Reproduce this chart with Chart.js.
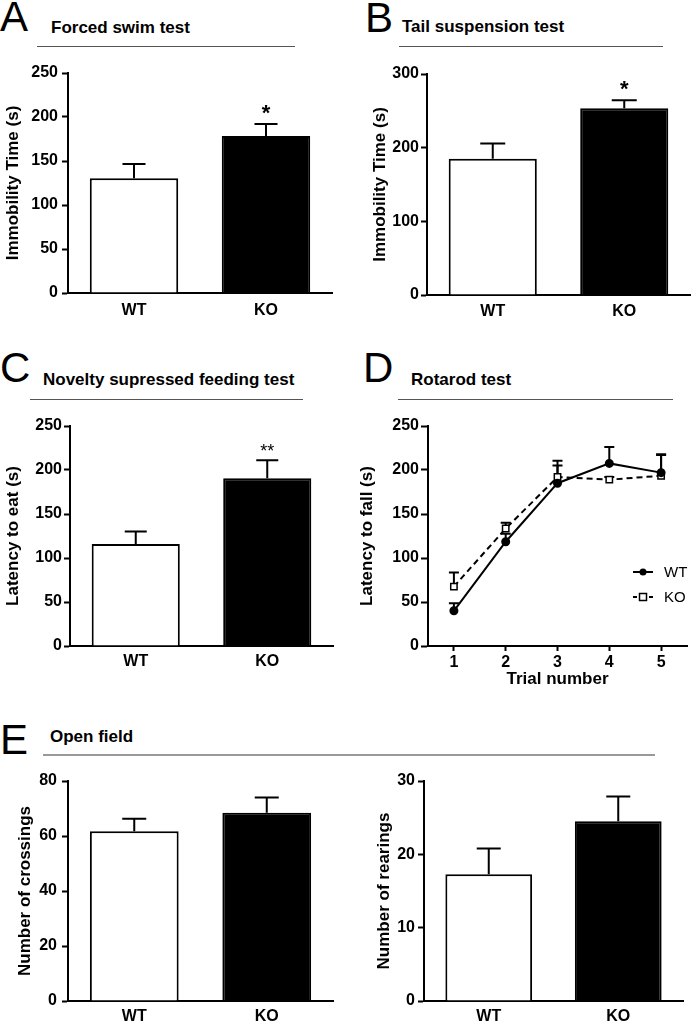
<!DOCTYPE html>
<html>
<head>
<meta charset="utf-8">
<script src="https://cdn.jsdelivr.net/npm/chart.js@4.4.1/dist/chart.umd.min.js"></script>
<style>
  body { margin: 0; background: #fff; }
  #fig { position: relative; width: 693px; height: 1023px; overflow: hidden; font-family: 'Liberation Sans', Arial, sans-serif; color: #000; }
  .letter { position: absolute; font-size: 42px; line-height: 42px; }
  .title { position: absolute; font-size: 17px; font-weight: bold; line-height: 17px; white-space: nowrap; }
  .rule { position: absolute; height: 1px; background: #555; }
  canvas { position: absolute; }
</style>
</head>
<body>
<div id="fig">
  <div class="letter" style="left:0px; top:-4px;">A</div>
  <div class="title" style="left:51px; top:19px;">Forced swim test</div>
  <div class="rule" style="left:37px; top:46px; width:258px;"></div>

  <div class="letter" style="left:365px; top:-3px;">B</div>
  <div class="title" style="left:402px; top:18px;">Tail suspension test</div>
  <div class="rule" style="left:399px; top:46px; width:264px;"></div>

  <div class="letter" style="left:0px; top:347px;">C</div>
  <div class="title" style="left:43px; top:371px;">Novelty supressed feeding test</div>
  <div class="rule" style="left:30px; top:399px; width:273px;"></div>

  <div class="letter" style="left:363px; top:347px;">D</div>
  <div class="title" style="left:411px; top:371px;">Rotarod test</div>
  <div class="rule" style="left:398px; top:399px; width:275px;"></div>

  <div class="letter" style="left:0px; top:719px;">E</div>
  <div class="title" style="left:50px; top:728px;">Open field</div>
  <div class="rule" style="left:43px; top:754px; width:612px; height:2px; background:#999;"></div>

  <canvas id="swim" width="345" height="270" style="left:0px; top:55px;"></canvas>
  <canvas id="tail" width="338" height="270" style="left:355px; top:55px;"></canvas>
  <canvas id="feeding" width="345" height="270" style="left:0px; top:408px;"></canvas>
  <canvas id="rotarod" width="338" height="285" style="left:355px; top:408px;"></canvas>
  <canvas id="crossings" width="345" height="260" style="left:0px; top:763px;"></canvas>
  <canvas id="rearings" width="338" height="260" style="left:355px; top:763px;"></canvas>
</div>

<script>
// groups on the bar panels
const groups = ['WT', 'KO'];

// A - forced swim test
const swimMeans = [130.5, 178.5];
const swimSem = [16, 13.5];
const swimStars = ['', '*'];
const swimTicks = [0, 50, 100, 150, 200, 250];

// B - tail suspension test
const tailMeans = [185, 253.5];
const tailSem = [20.5, 11];
const tailStars = ['', '*'];
const tailTicks = [0, 100, 200, 300];

// C - novelty suppressed feeding
const feedingMeans = [116, 190.5];
const feedingSem = [14, 20.5];
const feedingStars = ['', '**'];
const feedingTicks = [0, 50, 100, 150, 200, 250];

// D - rotarod
const trials = ['1', '2', '3', '4', '5'];
const rotarodWT = [40, 118.5, 185, 207.5, 197];
const rotarodWTSem = [8.5, 9, 20, 18.5, 20];
const rotarodKO = [67.5, 133.5, 192, 189, 193.5];
const rotarodKOSem = [16, 6.5, 18.5, 3, 24.5];
const rotarodTicks = [0, 50, 100, 150, 200, 250];

// E - open field
const crossingMeans = [61.7, 68.5];
const crossingSem = [4.6, 5.5];
const crossingTicks = [0, 20, 40, 60, 80];
const rearingMeans = [17.3, 24.5];
const rearingSem = [3.5, 3.4];
const rearingTicks = [0, 10, 20, 30];

Chart.defaults.font.family = "'Liberation Sans', Arial, sans-serif";
Chart.defaults.color = '#000';

// SEM whiskers (upwards only) plus significance stars
function drawErrors(chart, opts) {
    const ctx = chart.ctx;
    const yScale = chart.scales.y;
    chart.data.datasets.forEach((ds, di) => {
        if (!ds.errors) return;
        const meta = chart.getDatasetMeta(di);
        meta.data.forEach((el, i) => {
            const base = yScale.getPixelForValue(ds.data[i]);
            const top = yScale.getPixelForValue(ds.data[i] + ds.errors[i]);
            ctx.save();
            ctx.strokeStyle = '#000';
            ctx.lineWidth = 2;
            ctx.setLineDash([]);
            ctx.beginPath();
            ctx.moveTo(el.x, base);
            ctx.lineTo(el.x, top);
            ctx.moveTo(el.x - opts.cap, top);
            ctx.lineTo(el.x + opts.cap, top);
            ctx.stroke();
            if (ds.stars && ds.stars[i]) {
                ctx.fillStyle = '#000';
                ctx.font = opts.starFont;
                ctx.textAlign = 'center';
                ctx.textBaseline = 'alphabetic';
                ctx.fillText(ds.stars[i], el.x, top - opts.starGap);
            }
            ctx.restore();
        });
    });
}

const errorBars = {
    id: 'errorBars',
    beforeDatasetsDraw(chart, args, opts) {
        if (opts.behind) drawErrors(chart, opts);
    },
    afterDatasetsDraw(chart, args, opts) {
        if (!opts.behind) drawErrors(chart, opts);
    }
};

// legend with line + marker, like the prism style
const lineKey = {
    id: 'lineKey',
    afterDraw(chart, args, opts) {
        if (!opts.display) return;
        const { ctx, chartArea } = chart;
        chart.data.datasets.forEach((ds, i) => {
            const x = chartArea.right - opts.right;
            const y = chartArea.top + opts.top + i * opts.gap;
            ctx.save();
            ctx.strokeStyle = '#000';
            ctx.lineWidth = 2;
            ctx.setLineDash(ds.borderDash ? [4, 4] : []);
            ctx.beginPath();
            ctx.moveTo(x, y);
            ctx.lineTo(x + 20, y);
            ctx.stroke();
            ctx.setLineDash([]);
            ctx.lineWidth = 1.5;
            ctx.fillStyle = ds.pointBackgroundColor;
            if (ds.pointStyle === 'rect') {
                ctx.fillRect(x + 6.5, y - 3.5, 7, 7);
                ctx.strokeRect(x + 6.5, y - 3.5, 7, 7);
            } else {
                ctx.beginPath();
                ctx.arc(x + 10, y, 3.5, 0, Math.PI * 2);
                ctx.fill();
            }
            ctx.fillStyle = '#000';
            ctx.font = '15px ' + Chart.defaults.font.family;
            ctx.textBaseline = 'middle';
            ctx.fillText(ds.label, x + 31, y + 1);
            ctx.restore();
        });
    }
};

function yAxis(tickValues, title, dims) {
    return {
        min: tickValues[0],
        max: tickValues[tickValues.length - 1],
        afterBuildTicks: s => { s.ticks = tickValues.map(v => ({ value: v })); },
        afterFit: s => { s.width = dims.yWidth; },
        border: { display: true, color: '#000', width: 2 },
        grid: { drawOnChartArea: false, drawTicks: true, tickLength: dims.tickLen || 6, tickColor: '#000', tickWidth: 2 },
        ticks: { color: '#000', padding: dims.tickPad, font: { size: 16, weight: 'bold' } },
        title: { display: true, text: title, color: '#000', padding: { top: dims.titlePad, bottom: 0 }, font: { size: 17, weight: 'bold' } }
    };
}

function barChart(id, means, sem, stars, tickValues, title, dims) {
    return new Chart(document.getElementById(id), {
        type: 'bar',
        data: {
            labels: groups,
            datasets: [{
                data: means,
                errors: sem,
                stars: stars,
                backgroundColor: ['#ffffff', '#000000'],
                borderColor: '#000',
                borderWidth: 2,
                borderSkipped: 'bottom',
                barPercentage: 0.67,
                categoryPercentage: 1
            }]
        },
        options: {
            responsive: false,
            animation: false,
            layout: { padding: { top: dims.padTop, right: dims.padRight, left: 0, bottom: 0 } },
            plugins: {
                legend: { display: false },
                tooltip: { enabled: false },
                errorBars: { cap: dims.cap, starFont: dims.starFont || 'bold 22px Liberation Sans', starGap: dims.starGap || 4 }
            },
            scales: {
                x: {
                    afterFit: s => { s.height = dims.xHeight; },
                    border: { display: true, color: '#000', width: 2 },
                    grid: { display: false, drawTicks: false },
                    ticks: { color: '#000', padding: dims.xPad, font: { size: 16, weight: 'bold' } }
                },
                y: yAxis(tickValues, title, dims)
            }
        },
        plugins: [errorBars]
    });
}

barChart('swim', swimMeans, swimSem, swimStars, swimTicks, 'Immobility Time (s)',
    { yWidth: 68, xHeight: 32, padTop: 18, padRight: 13, titlePad: 3, tickPad: 4, xPad: 8, cap: 11.5 });

barChart('tail', tailMeans, tailSem, tailStars, tailTicks, 'Immobility Time (s)',
    { yWidth: 72, xHeight: 30, padTop: 19, padRight: 3, titlePad: 15, tickPad: 2, xPad: 7, cap: 12.5 });

barChart('feeding', feedingMeans, feedingSem, feedingStars, feedingTicks, 'Latency to eat (s)',
    { yWidth: 70, xHeight: 32, padTop: 18, padRight: 12, titlePad: 3, tickPad: 2, xPad: 6, cap: 11, starFont: '18px Liberation Sans', starGap: 3 });

barChart('crossings', crossingMeans, crossingSem, null, crossingTicks, 'Number of crossings',
    { yWidth: 68, xHeight: 22, padTop: 18, padRight: 12, titlePad: 15, tickPad: 5, xPad: 6, cap: 12 });

barChart('rearings', rearingMeans, rearingSem, null, rearingTicks, 'Number of rearings',
    { yWidth: 69, xHeight: 22, padTop: 18, padRight: 10, titlePad: 19, tickPad: 3, xPad: 6, cap: 12 });

// D - rotarod line plot
const rotarodDims = { yWidth: 73, tickPad: 2, titlePad: 2, tickLen: 7 };
new Chart(document.getElementById('rotarod'), {
    type: 'line',
    data: {
        labels: trials,
        datasets: [
            {
                label: 'WT',
                data: rotarodWT,
                errors: rotarodWTSem,
                borderColor: '#000',
                borderWidth: 2,
                pointStyle: 'circle',
                pointRadius: 3.5,
                pointBackgroundColor: '#000',
                pointBorderColor: '#000',
                tension: 0
            },
            {
                label: 'KO',
                data: rotarodKO,
                errors: rotarodKOSem,
                borderColor: '#000',
                borderWidth: 2,
                borderDash: [6, 4],
                pointStyle: 'rect',
                pointRadius: 4.5,
                pointBorderWidth: 1.5,
                pointBackgroundColor: '#ffffff',
                pointBorderColor: '#000',
                tension: 0
            }
        ]
    },
    options: {
        responsive: false,
        animation: false,
        layout: { padding: { top: 18, right: 3, left: 0, bottom: 0 } },
        plugins: {
            legend: { display: false },
            tooltip: { enabled: false },
            errorBars: { behind: true, cap: 5 },
            lineKey: { display: true, right: 54, top: 146, gap: 25 }
        },
        scales: {
            x: {
                offset: true,
                afterFit: s => { s.height = 47; },
                border: { display: true, color: '#000', width: 2 },
                grid: { offset: false, drawOnChartArea: false, drawTicks: true, tickLength: 5, tickColor: '#000', tickWidth: 2 },
                ticks: { color: '#000', padding: 2, font: { size: 16, weight: 'bold' } },
                title: { display: true, text: 'Trial number', color: '#000', padding: { top: 0, bottom: 3 }, font: { size: 17, weight: 'bold' } }
            },
            y: yAxis(rotarodTicks, 'Latency to fall (s)', rotarodDims)
        }
    },
    plugins: [errorBars, lineKey]
});
</script>
</body>
</html>
